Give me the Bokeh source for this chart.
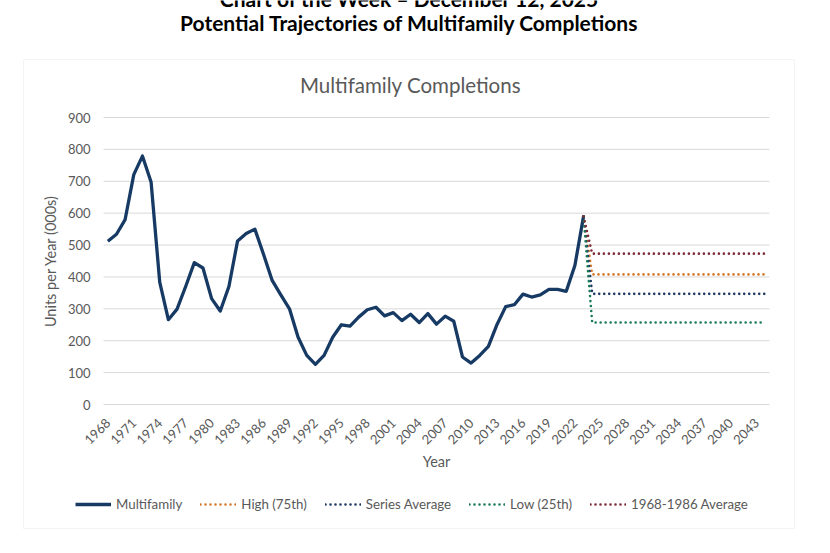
import math
from bokeh.plotting import figure
from bokeh.models import FixedTicker, Label, BoxAnnotation, Legend, LegendItem, Range1d
from bokeh.embed import file_html
from bokeh.resources import INLINE

# ---------------- data ----------------
years = list(range(1968, 2024))
multifamily = [512, 534, 580, 721, 779, 698, 384, 266, 299, 370,
               445, 428, 332, 293, 370, 513, 536, 550, 471, 389,
               344, 300, 211, 154, 126, 154, 211, 250, 246, 274,
               297, 305, 278, 288, 263, 283, 257, 285, 252, 277,
               261, 149, 130, 154, 182, 251, 307, 313, 346, 337,
               344, 361, 361, 355, 436, 590]

proj_years = list(range(2023, 2045))
start_value = 590
high_level = 408          # High (75th)
series_avg_level = 347    # Series Average
low_level = 257           # Low (25th)
early_avg_level = 473     # 1968-1986 Average

high_75 = [start_value] + [high_level] * (len(proj_years) - 1)
series_avg = [start_value] + [series_avg_level] * (len(proj_years) - 1)
low_25 = [start_value] + [low_level] * (len(proj_years) - 1)
avg_68_86 = [start_value] + [early_avg_level] * (len(proj_years) - 1)

x_tick_years = list(range(1968, 2044, 3))
y_ticks = list(range(0, 1000, 100))
y_min, y_max = 0, 900

series_labels = ["Multifamily", "High (75th)", "Series Average", "Low (25th)", "1968-1986 Average"]
header_lines = ["Chart of the Week \u2013 December 12, 2025",
                "Potential Trajectories of Multifamily Completions"]
chart_title = "Multifamily Completions"

# ---------------- style / layout (pixels on the page) ----------------
FONT = "Lato"
GRAY = "#595959"
GRID = "#D9D9D9"
C_MF = "#173A64"
C_HIGH = "#D4782C"
C_AVG = "#1F3864"
C_LOW = "#1B7A5A"
C_EARLY = "#7B2B36"

W, H = 822, 545
PLOT_L, PLOT_R = 103, 769      # plotting area, x pixels
PLOT_T, PLOT_B = 117, 404      # plotting area, y pixels (900 and 0)

x_lo = years[0] - 0.5
x_hi = proj_years[-1] + 0.5
ppx = (PLOT_R - PLOT_L) / (x_hi - x_lo)
ppy = (PLOT_B - PLOT_T) / (y_max - y_min)
x_range = Range1d(x_lo - PLOT_L / ppx, x_hi + (W - PLOT_R) / ppx)
y_range = Range1d(y_min - (H - PLOT_B) / ppy, y_max + PLOT_T / ppy)

p = figure(width=W, height=H, output_backend="svg", toolbar_location=None,
           x_range=x_range, y_range=y_range,
           min_border=0, min_border_left=0, min_border_right=0,
           min_border_top=0, min_border_bottom=0)
p.styles = {"position": "absolute", "left": "0px", "top": "0px"}
p.outline_line_color = None
p.grid.visible = False

# chart box
p.add_layout(BoxAnnotation(left=23, right=794, top=H - 59, bottom=H - 528,
                           left_units="screen", right_units="screen",
                           top_units="screen", bottom_units="screen",
                           fill_alpha=0, line_color=GRID, line_width=1))

# horizontal gridlines
p.segment(x0=[x_lo] * len(y_ticks), y0=y_ticks, x1=[x_hi] * len(y_ticks), y1=y_ticks,
          line_color=GRID, line_width=1)

# axes floating at the plot-area edges
p.yaxis.fixed_location = x_lo
p.xaxis.fixed_location = y_min
p.yaxis.bounds = (y_min, y_max)
p.xaxis.bounds = (x_lo, x_hi)
p.yaxis.ticker = FixedTicker(ticks=y_ticks)
p.xaxis.ticker = FixedTicker(ticks=x_tick_years)
for ax in (p.xaxis[0], p.yaxis[0]):
    ax.axis_line_color = None
    ax.major_tick_line_color = None
    ax.minor_tick_line_color = None
    ax.major_tick_out = 0
    ax.major_tick_in = 0
    ax.major_label_text_font = FONT
    ax.major_label_text_font_size = "13px"
    ax.major_label_text_color = GRAY
    ax.axis_label_text_font = FONT
    ax.axis_label_text_font_size = "14.5px"
    ax.axis_label_text_font_style = "normal"
    ax.axis_label_text_color = GRAY

p.yaxis.major_label_standoff = 13
p.yaxis.axis_label = "Units per Year (000s)"
p.yaxis.axis_label_standoff = 6

p.xaxis.major_label_orientation = math.pi / 4
p.xaxis.major_label_standoff = 16
p.xaxis.axis_label = "Year"
p.xaxis.axis_label_standoff = 1

# series
r_mf = p.line(years, multifamily, line_color=C_MF, line_width=3.3, line_join="round")
dash = "0 5"
r_high = p.line(proj_years, high_75, line_color=C_HIGH, line_width=2.6, line_dash=dash, line_cap="round")
r_avg = p.line(proj_years, series_avg, line_color=C_AVG, line_width=2.6, line_dash=dash, line_cap="round")
r_low = p.line(proj_years, low_25, line_color=C_LOW, line_width=2.6, line_dash=dash, line_cap="round")
r_early = p.line(proj_years, avg_68_86, line_color=C_EARLY, line_width=2.6, line_dash=dash, line_cap="round")

renderers = [r_mf, r_high, r_avg, r_low, r_early]
legend = Legend(items=[LegendItem(label=l, renderers=[r]) for l, r in zip(series_labels, renderers)],
                orientation="horizontal", location=(75, H - 512),
                glyph_width=36, glyph_height=16, label_standoff=5, spacing=18,
                padding=0, margin=0, border_line_color=None, background_fill_alpha=0,
                label_text_font=FONT, label_text_font_size="13.3px", label_text_color=GRAY)
p.add_layout(legend)

def add_label(txt, px, py, size, color, style="normal"):
    p.add_layout(Label(x=px, y=H - py, x_units="screen", y_units="screen", text=txt,
                       text_align="center", text_baseline="alphabetic",
                       text_font=FONT, text_font_size=size, text_color=color,
                       text_font_style=style))

add_label(header_lines[0], 409, -2, "21px", "black", "bold")
add_label(header_lines[1], 409, 22, "21px", "black", "bold")
add_label(chart_title, 410, 84, "20.5px", GRAY)

open("out.html", "w").write(file_html(p, INLINE))
